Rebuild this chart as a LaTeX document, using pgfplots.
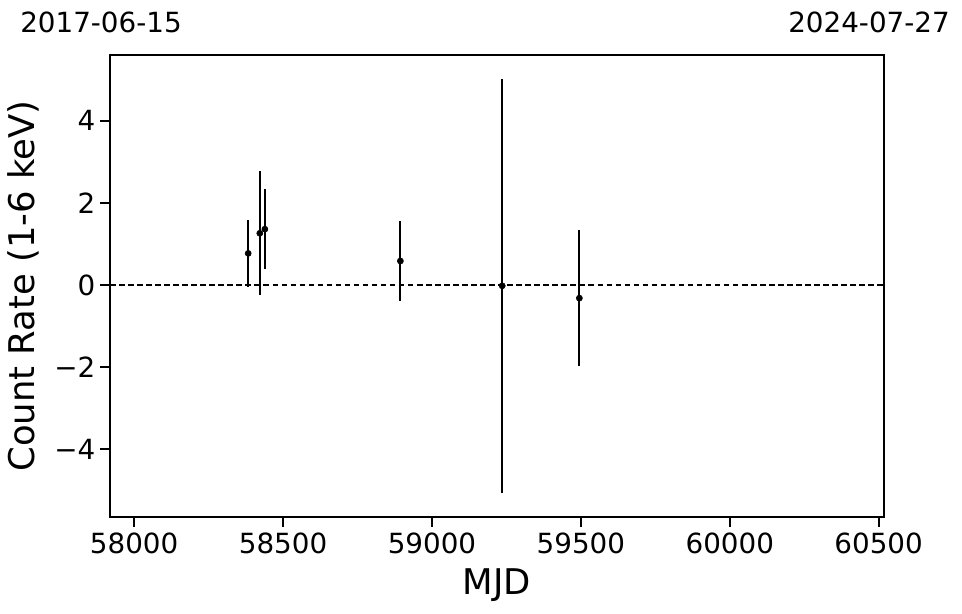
\documentclass[border=0pt]{standalone}
\usepackage{fontspec}
\setmainfont{DejaVu Sans}
\usepackage{pgfplots}
\pgfplotsset{compat=1.18}
\begin{document}
\begin{tikzpicture}[x=0.72pt,y=0.72pt]
\useasboundingbox (0,0) rectangle (962,613);
\node[anchor=base west,font=\fontsize{20}{24}\selectfont,inner sep=0pt] at (20,580) {2017-06-15};
\node[anchor=base east,font=\fontsize{20}{24}\selectfont,inner sep=0pt] at (950,580) {2024-07-27};
\begin{axis}[
  at={(79.2pt,69.12pt)}, anchor=south west,
  width=557.3pt, height=332.6pt, scale only axis,
  xmin=57919, xmax=60518, ymin=-5.65, ymax=5.6,
  scaled x ticks=false, scaled y ticks=false,
  axis line style={line width=0.9pt},
  xtick={58000,58500,59000,59500,60000,60500},
  xticklabels={58000,58500,59000,59500,60000,60500},
  ytick={-4,-2,0,2,4},
  yticklabels={−4,−2,0,2,4},
  tick align=outside, xtick pos=bottom, ytick pos=left,
  major tick length=7pt,
  every tick/.style={line width=1.4pt, black},
  tick label style={font=\fontsize{20}{24}\selectfont},
  xticklabel style={yshift=-1pt},
  xlabel={MJD}, ylabel={Count Rate (1-6 keV)},
  label style={font=\fontsize{25.5}{30}\selectfont},
  xlabel style={yshift=-4pt},
  ylabel style={yshift=4pt},
  clip=false,
]
\addplot[black, line width=1pt, dash pattern=on 4pt off 2.5pt, forget plot] coordinates {(57919,0) (60518,0)};
\addplot[only marks, mark=*, mark size=2.2pt, black,
  error bars/.cd, y dir=both, y explicit, error bar style={line width=1.6pt}, error mark=none]
  coordinates {
  (58383,0.77) +- (0,0.81)
  (58422,1.26) +- (0,1.51)
  (58439,1.36) +- (0,0.97)
  (58894,0.585) +- (0,0.97)
  (59236,-0.02) +- (0,5.04)
  (59495,-0.32) +- (0,1.66)
  };
\end{axis}
\end{tikzpicture}
\end{document}
